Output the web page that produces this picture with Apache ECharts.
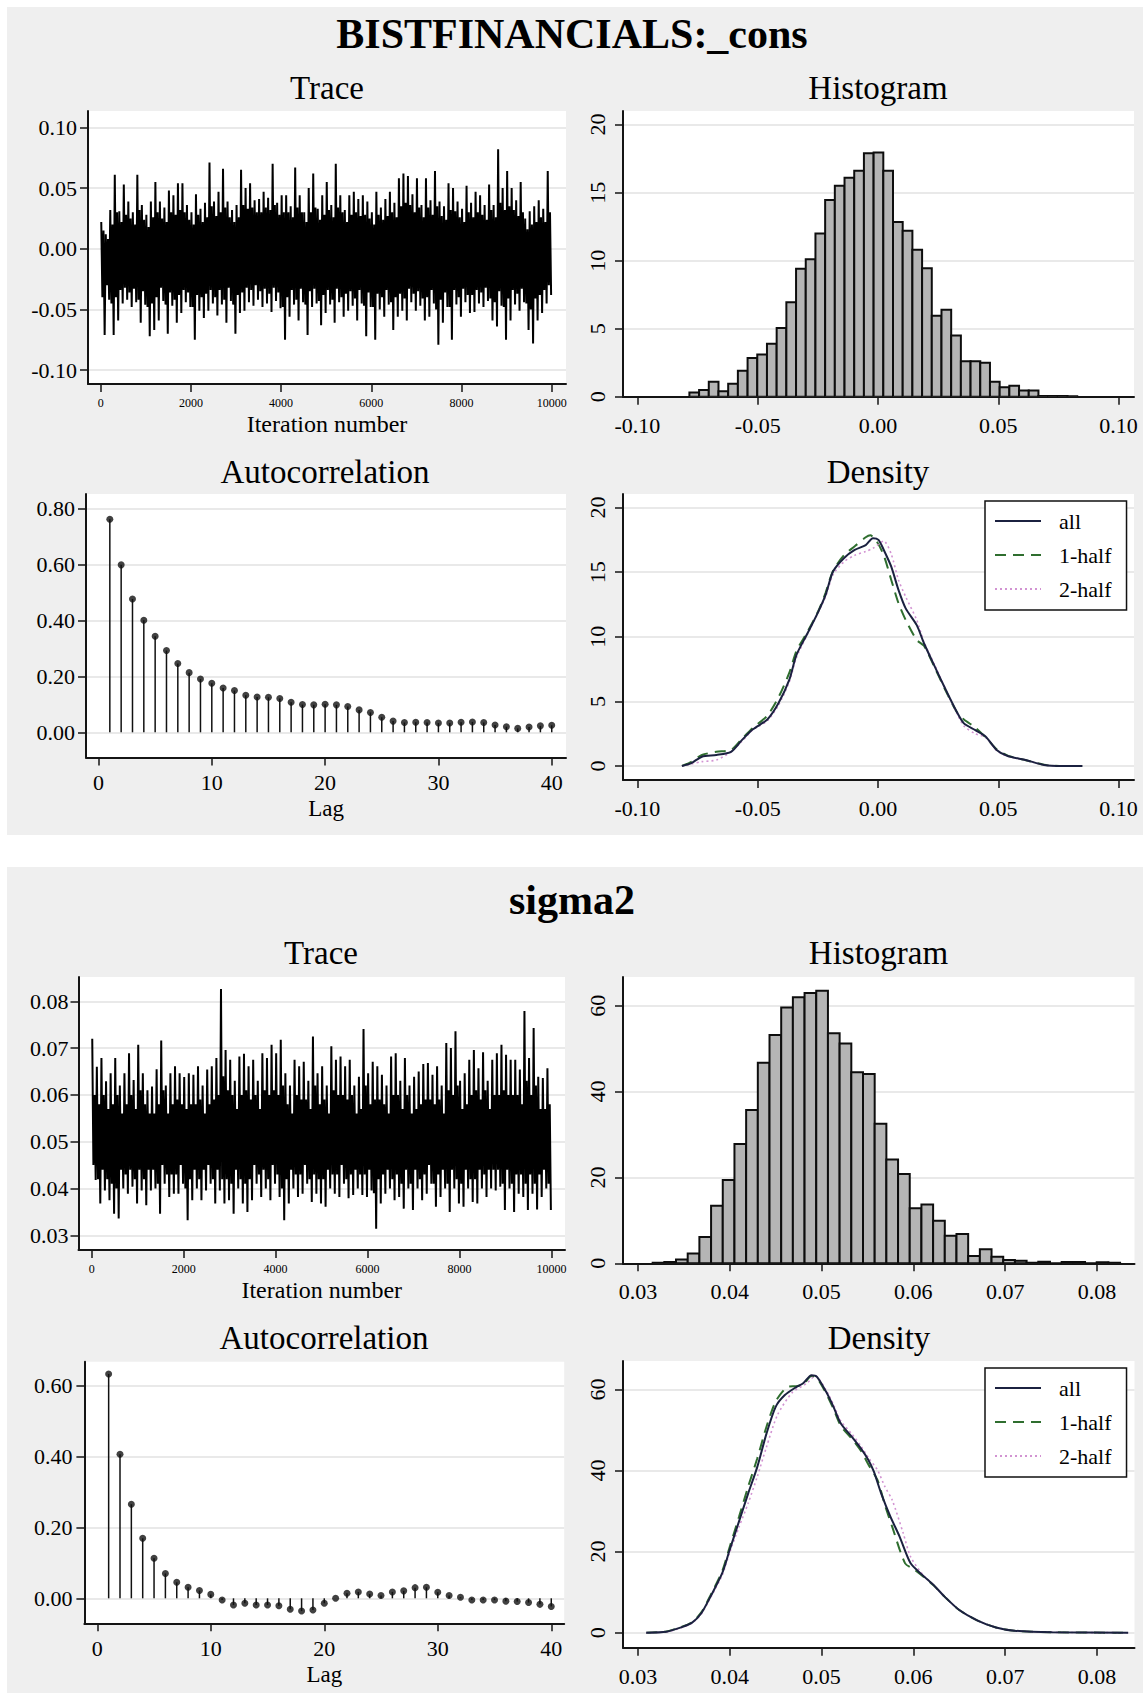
<!DOCTYPE html>
<html><head><meta charset="utf-8">
<script src="https://cdn.jsdelivr.net/npm/echarts/dist/echarts.min.js"></script>
<style>html,body{margin:0;padding:0;background:#fff}#c{width:1143px;height:1693px}</style>
</head><body><div id="c"></div>
<script>
// ---------------- DATA ----------------
// Trace of BISTFINANCIALS:_cons : per 100-iteration window, outer extremes (Hi/Lo) and edges of the dense core (InHi/InLo)
const trace1Hi = [0.022,0.012,0.032,0.061,0.031,0.053,0.039,0.030,0.061,0.036,
 0.028,0.039,0.055,0.039,0.034,0.048,0.044,0.054,0.054,0.036,
 0.030,0.045,0.033,0.038,0.071,0.039,0.047,0.066,0.039,0.032,
 0.036,0.065,0.050,0.054,0.040,0.041,0.047,0.042,0.070,0.038,
 0.044,0.044,0.035,0.067,0.044,0.030,0.050,0.062,0.033,0.044,
 0.055,0.036,0.070,0.044,0.032,0.044,0.047,0.041,0.044,0.039,
 0.030,0.047,0.034,0.041,0.047,0.038,0.058,0.062,0.060,0.045,
 0.058,0.036,0.058,0.040,0.064,0.039,0.035,0.054,0.050,0.039,
 0.033,0.052,0.038,0.047,0.044,0.036,0.053,0.036,0.082,0.050,
 0.064,0.050,0.040,0.055,0.025,0.031,0.035,0.040,0.033,0.064];
const trace1Lo = [-0.071,-0.042,-0.071,-0.059,-0.045,-0.042,-0.048,-0.044,-0.061,-0.046,
 -0.072,-0.067,-0.059,-0.043,-0.070,-0.047,-0.061,-0.053,-0.044,-0.048,
 -0.075,-0.051,-0.057,-0.051,-0.045,-0.055,-0.046,-0.061,-0.043,-0.070,
 -0.053,-0.051,-0.044,-0.047,-0.042,-0.048,-0.045,-0.052,-0.043,-0.049,
 -0.075,-0.056,-0.046,-0.059,-0.044,-0.071,-0.048,-0.045,-0.063,-0.053,
 -0.046,-0.061,-0.044,-0.056,-0.051,-0.047,-0.059,-0.045,-0.072,-0.048,
 -0.075,-0.050,-0.056,-0.046,-0.067,-0.056,-0.051,-0.059,-0.044,-0.051,
 -0.047,-0.059,-0.056,-0.045,-0.079,-0.061,-0.048,-0.075,-0.046,-0.056,
 -0.044,-0.053,-0.052,-0.045,-0.048,-0.043,-0.059,-0.064,-0.047,-0.075,
 -0.059,-0.046,-0.051,-0.044,-0.067,-0.078,-0.059,-0.053,-0.045,-0.038];
const trace1InHi = [0.015,0.008,0.020,0.030,0.022,0.028,0.025,0.020,0.032,0.024,
 0.018,0.026,0.030,0.025,0.022,0.030,0.028,0.032,0.030,0.024,
 0.020,0.028,0.022,0.026,0.035,0.027,0.030,0.034,0.026,0.022,
 0.026,0.036,0.033,0.034,0.030,0.030,0.034,0.032,0.036,0.028,
 0.030,0.030,0.026,0.034,0.030,0.022,0.030,0.034,0.024,0.028,
 0.032,0.026,0.034,0.030,0.022,0.028,0.030,0.027,0.028,0.025,
 0.020,0.028,0.024,0.027,0.030,0.026,0.035,0.038,0.036,0.030,
 0.034,0.026,0.034,0.028,0.035,0.027,0.024,0.032,0.031,0.026,
 0.022,0.030,0.026,0.030,0.028,0.024,0.032,0.026,0.038,0.032,
 0.035,0.032,0.027,0.030,0.016,0.020,0.022,0.026,0.022,0.030];
const trace1InLo = [-0.040,-0.030,-0.045,-0.040,-0.034,-0.032,-0.036,-0.033,-0.042,-0.035,
 -0.048,-0.045,-0.040,-0.032,-0.046,-0.036,-0.042,-0.038,-0.034,-0.036,
 -0.048,-0.038,-0.040,-0.037,-0.034,-0.040,-0.034,-0.042,-0.032,-0.046,
 -0.038,-0.036,-0.032,-0.034,-0.030,-0.035,-0.033,-0.037,-0.032,-0.036,
 -0.048,-0.040,-0.034,-0.042,-0.033,-0.046,-0.035,-0.033,-0.043,-0.038,
 -0.034,-0.042,-0.033,-0.040,-0.037,-0.035,-0.041,-0.034,-0.047,-0.036,
 -0.048,-0.037,-0.040,-0.034,-0.044,-0.040,-0.037,-0.041,-0.033,-0.037,
 -0.035,-0.041,-0.040,-0.034,-0.050,-0.042,-0.036,-0.048,-0.034,-0.040,
 -0.033,-0.038,-0.038,-0.034,-0.036,-0.032,-0.041,-0.044,-0.035,-0.048,
 -0.041,-0.034,-0.037,-0.033,-0.045,-0.050,-0.041,-0.038,-0.034,-0.030];
// Trace of sigma2
const trace2Hi = [0.0720,0.0660,0.0679,0.0629,0.0646,0.0679,0.0620,0.0646,0.0689,0.0632,
 0.0707,0.0646,0.0610,0.0618,0.0655,0.0716,0.0620,0.0646,0.0661,0.0646,
 0.0638,0.0646,0.0643,0.0661,0.0620,0.0654,0.0661,0.0679,0.0826,0.0696,
 0.0675,0.0630,0.0682,0.0688,0.0661,0.0675,0.0630,0.0689,0.0679,0.0707,
 0.0689,0.0718,0.0646,0.0620,0.0675,0.0661,0.0671,0.0630,0.0725,0.0646,
 0.0661,0.0620,0.0704,0.0675,0.0682,0.0661,0.0675,0.0620,0.0639,0.0741,
 0.0646,0.0671,0.0661,0.0643,0.0620,0.0682,0.0689,0.0630,0.0679,0.0620,
 0.0639,0.0650,0.0666,0.0668,0.0643,0.0661,0.0620,0.0711,0.0700,0.0736,
 0.0630,0.0646,0.0675,0.0696,0.0657,0.0691,0.0630,0.0675,0.0689,0.0707,
 0.0686,0.0675,0.0675,0.0654,0.0779,0.0679,0.0743,0.0639,0.0636,0.0657];
const trace2Lo = [0.0418,0.0368,0.0396,0.0375,0.0346,0.0336,0.0400,0.0389,0.0404,0.0368,
 0.0396,0.0364,0.0396,0.0400,0.0346,0.0410,0.0382,0.0389,0.0389,0.0410,
 0.0332,0.0375,0.0400,0.0375,0.0396,0.0410,0.0368,0.0396,0.0368,0.0375,
 0.0346,0.0400,0.0368,0.0350,0.0375,0.0410,0.0382,0.0400,0.0375,0.0410,
 0.0382,0.0332,0.0368,0.0400,0.0382,0.0389,0.0410,0.0371,0.0389,0.0368,
 0.0361,0.0400,0.0389,0.0382,0.0410,0.0379,0.0386,0.0400,0.0386,0.0382,
 0.0396,0.0314,0.0368,0.0389,0.0400,0.0375,0.0382,0.0357,0.0400,0.0354,
 0.0400,0.0375,0.0389,0.0410,0.0361,0.0382,0.0400,0.0350,0.0400,0.0368,
 0.0361,0.0400,0.0371,0.0368,0.0400,0.0382,0.0400,0.0396,0.0404,0.0354,
 0.0400,0.0350,0.0389,0.0382,0.0354,0.0389,0.0355,0.0382,0.0400,0.0354];
const trace2InHi = [0.060,0.058,0.060,0.057,0.058,0.060,0.056,0.058,0.060,0.057,
 0.061,0.058,0.056,0.056,0.058,0.061,0.056,0.058,0.059,0.058,
 0.057,0.058,0.058,0.059,0.056,0.058,0.059,0.060,0.064,0.061,
 0.060,0.057,0.060,0.061,0.059,0.060,0.057,0.061,0.060,0.061,
 0.060,0.062,0.058,0.056,0.060,0.059,0.059,0.057,0.062,0.058,
 0.059,0.056,0.061,0.060,0.060,0.059,0.060,0.056,0.057,0.062,
 0.058,0.059,0.059,0.058,0.056,0.060,0.060,0.057,0.060,0.056,
 0.057,0.058,0.059,0.059,0.058,0.059,0.056,0.061,0.060,0.062,
 0.057,0.058,0.060,0.061,0.059,0.061,0.057,0.060,0.060,0.061,
 0.060,0.060,0.060,0.058,0.063,0.060,0.062,0.057,0.057,0.058];
const trace2InLo = [0.045,0.042,0.044,0.042,0.041,0.040,0.044,0.043,0.044,0.042,
 0.044,0.042,0.044,0.044,0.041,0.045,0.043,0.043,0.043,0.045,
 0.040,0.042,0.044,0.042,0.044,0.045,0.042,0.044,0.042,0.042,
 0.041,0.044,0.042,0.041,0.042,0.045,0.043,0.044,0.042,0.045,
 0.043,0.040,0.042,0.044,0.043,0.043,0.045,0.042,0.043,0.042,
 0.042,0.044,0.043,0.043,0.045,0.042,0.043,0.044,0.043,0.043,
 0.044,0.039,0.042,0.043,0.044,0.042,0.043,0.041,0.044,0.041,
 0.044,0.042,0.043,0.045,0.041,0.043,0.044,0.041,0.044,0.042,
 0.041,0.044,0.042,0.042,0.044,0.043,0.044,0.044,0.044,0.041,
 0.044,0.041,0.043,0.043,0.041,0.043,0.041,0.043,0.044,0.041];
const traceStep = 100; // iterations per window

// Histograms (density scale), 40 bins
const hist1Start = -0.0784, hist1Width = 0.00403;
const hist1Vals = [0.3,0.5,1.1,0.4,0.95,1.9,2.85,3.1,3.9,5.05,6.95,9.4,10.1,12.0,14.45,15.5,16.1,16.6,17.9,17.95,
 16.6,12.85,12.2,10.8,9.45,5.95,6.4,4.5,2.6,2.6,2.5,1.1,0.7,0.8,0.45,0.45,0.06,0.05,0.05,0.03];
const hist2Start = 0.0316, hist2Width = 0.001273;
const hist2Vals = [0.15,0.3,0.9,2.3,6.1,13.4,19.4,27.8,35.7,46.7,53.2,59.6,62.0,63.0,63.5,53.6,51.2,44.5,44.1,32.5,
 24.2,20.8,12.8,13.7,9.9,6.4,6.8,1.7,3.3,1.55,0.78,0.6,0.1,0.35,0.0,0.3,0.3,0.0,0.25,0.1];

// Autocorrelations, lags 1..40
const lags = [1,2,3,4,5,6,7,8,9,10,11,12,13,14,15,16,17,18,19,20,21,22,23,24,25,26,27,28,29,30,31,32,33,34,35,36,37,38,39,40];
const acf1 = [0.761,0.598,0.476,0.400,0.343,0.292,0.246,0.213,0.190,0.175,0.158,0.149,0.132,0.126,0.125,0.121,0.107,0.099,0.098,0.100,
 0.098,0.092,0.080,0.071,0.054,0.040,0.035,0.036,0.035,0.033,0.033,0.036,0.037,0.035,0.026,0.020,0.014,0.019,0.023,0.025];
const acf2 = [0.632,0.406,0.265,0.169,0.113,0.070,0.045,0.031,0.022,0.011,-0.005,-0.019,-0.014,-0.019,-0.019,-0.021,-0.031,-0.036,-0.033,-0.014,
 0.000,0.014,0.018,0.012,0.008,0.018,0.021,0.030,0.031,0.017,0.008,0.003,-0.005,-0.005,-0.005,-0.008,-0.009,-0.012,-0.017,-0.023];

// Kernel densities [x, density]
const dens1All = [[-0.0815,0],[-0.0778,0.2],[-0.0732,0.72],[-0.0672,0.85],[-0.0611,1.1],[-0.0566,2.0],[-0.052,2.84],[-0.046,3.6],[-0.0414,4.85],[-0.0369,6.66],[-0.0339,8.6],[-0.0293,10.27],[-0.0248,11.95],[-0.0218,13.24],[-0.0187,15.05],[-0.0142,16.08],[-0.0097,16.72],[-0.0051,17.1],[-0.0021,17.63],[0.0002,17.5],[0.0024,16.72],[0.0055,15.43],[0.0085,13.63],[0.0115,12.2],[0.0161,10.9],[0.0191,9.5],[0.0236,7.69],[0.0282,5.88],[0.0327,4.2],[0.0357,3.3],[0.0403,2.79],[0.0448,2.27],[0.0493,1.24],[0.0539,0.77],[0.0614,0.46],[0.069,0.08],[0.0766,0.0],[0.0849,0.0]];
const dens1Half1 = [[-0.0815,0],[-0.0778,0.3],[-0.0732,0.85],[-0.0672,1.1],[-0.0611,1.24],[-0.0566,2.1],[-0.052,2.95],[-0.046,3.9],[-0.0414,5.3],[-0.0369,7.2],[-0.0339,8.9],[-0.0293,10.4],[-0.0248,12.0],[-0.0218,13.4],[-0.0187,15.1],[-0.0142,16.3],[-0.0097,17.0],[-0.0051,17.7],[-0.0032,17.85],[-0.0006,17.4],[0.0024,16.3],[0.0055,14.4],[0.0085,12.6],[0.0115,11.3],[0.0161,9.75],[0.0191,9.3],[0.0236,7.6],[0.0282,5.8],[0.0327,4.2],[0.0357,3.6],[0.0403,3.0],[0.0448,2.2],[0.0493,1.3],[0.0539,0.8],[0.0614,0.45],[0.069,0.1],[0.0766,0.0],[0.0849,0.0]];
const dens1Half2 = [[-0.0815,0],[-0.0778,0.15],[-0.0732,0.34],[-0.0672,0.46],[-0.0611,1.1],[-0.0566,1.9],[-0.052,2.8],[-0.046,3.5],[-0.0414,4.7],[-0.0369,6.5],[-0.0339,8.4],[-0.0293,10.2],[-0.0248,11.9],[-0.0218,13.1],[-0.0187,14.8],[-0.0142,15.8],[-0.0097,16.3],[-0.0051,16.6],[-0.0021,16.85],[0.0024,17.4],[0.0055,16.4],[0.0085,14.4],[0.0115,13.1],[0.0161,11.3],[0.0191,9.6],[0.0236,7.8],[0.0282,5.9],[0.0327,4.1],[0.0357,3.1],[0.0403,2.5],[0.0448,2.2],[0.0493,1.2],[0.0539,0.75],[0.0614,0.46],[0.069,0.08],[0.0766,0.0],[0.0849,0.0]];
const dens2All = [[0.0309,0],[0.0331,0.25],[0.0347,1.3],[0.0359,2.5],[0.0369,4.8],[0.0379,8.9],[0.0392,14.8],[0.040,20.5],[0.041,27.4],[0.042,34.3],[0.043,40.9],[0.044,49.1],[0.045,55.7],[0.046,58.6],[0.0472,60.5],[0.048,61.5],[0.0489,63.5],[0.0495,63.1],[0.0505,59.4],[0.0513,55.7],[0.0521,51.6],[0.0533,48.3],[0.0543,45.4],[0.0551,42.6],[0.0557,39.7],[0.0565,34.3],[0.0575,28.6],[0.0585,23.7],[0.0597,17.1],[0.061,14.2],[0.0622,11.75],[0.0634,8.9],[0.065,5.6],[0.067,3.0],[0.069,1.3],[0.071,0.5],[0.0751,0.1],[0.0834,0]];
const dens2Half1 = [[0.0309,0],[0.0331,0.3],[0.0347,1.4],[0.0359,2.6],[0.0369,5.0],[0.0379,9.2],[0.0392,15.3],[0.040,21.2],[0.041,28.5],[0.042,36.0],[0.043,43.0],[0.044,50.8],[0.045,57.0],[0.0462,60.5],[0.0472,60.8],[0.048,61.2],[0.0489,63.3],[0.0495,62.8],[0.0505,59.0],[0.0513,55.2],[0.0521,51.0],[0.0533,47.8],[0.0543,44.8],[0.0551,41.5],[0.0561,37.6],[0.0569,31.5],[0.0577,26.1],[0.0591,17.1],[0.0601,15.6],[0.061,14.0],[0.0622,11.7],[0.0634,8.9],[0.065,5.6],[0.067,3.0],[0.069,1.3],[0.071,0.5],[0.0751,0.1],[0.0834,0]];
const dens2Half2 = [[0.0309,0],[0.0331,0.2],[0.0347,1.2],[0.0359,2.4],[0.0369,4.6],[0.0379,8.6],[0.0392,14.3],[0.040,19.8],[0.041,26.0],[0.042,31.9],[0.043,38.5],[0.044,45.8],[0.0452,53.7],[0.0468,59.2],[0.0484,61.5],[0.0493,63.3],[0.0505,59.8],[0.0513,56.2],[0.0521,52.2],[0.0533,49.0],[0.0543,46.0],[0.0551,43.2],[0.0561,40.1],[0.0569,36.0],[0.0577,32.7],[0.0589,24.5],[0.0597,18.7],[0.061,14.4],[0.0622,11.8],[0.0634,8.9],[0.065,5.6],[0.067,3.0],[0.069,1.3],[0.071,0.5],[0.0751,0.1],[0.0834,0]];

// Tick values
const traceXTicks = [0,2000,4000,6000,8000,10000];
const trace1YTicks = [-0.10,-0.05,0,0.05,0.10];
const hist1XTicks = [-0.10,-0.05,0,0.05,0.10];
const hist1YTicks = [0,5,10,15,20];
const acfXTicks = [0,10,20,30,40];
const acf1YTicks = [0,0.2,0.4,0.6,0.8];
const trace2YTicks = [0.03,0.04,0.05,0.06,0.07,0.08];
const hist2XTicks = [0.03,0.04,0.05,0.06,0.07,0.08];
const hist2YTicks = [0,20,40,60];
const acf2YTicks = [0,0.2,0.4,0.6];
const legendNames = ['all','1-half','2-half'];

// ---------------- CHART ----------------
const FONT = 'Liberation Serif';
const AX = '#141414';
const GRIDC = '#e2e2e2';

function traceData(hi, inLo, inHi, lo){
  const out = [];
  for (let k = 0; k < hi.length; k++){
    const b = k*traceStep;
    out.push([b + 12, hi[k]]);
    out.push([b + 37, inLo[k]]);
    out.push([b + 62, inHi[k]]);
    out.push([b + 87, lo[k]]);
  }
  return out;
}
function histData(start, w, vals){ return vals.map((h,i)=>[start+i*w, start+(i+1)*w, h]); }
function acfData(v){ return lags.map((l,i)=>[l, v[i]]); }

function axis(o){
  return {
    type:'value', gridIndex:o.g, min:o.min, max:o.max,
    nameMoveOverlap:false,
    name:o.name||'', nameLocation:'middle', nameGap:o.nameGap||0,
    nameTextStyle:{fontFamily:FONT, fontSize:o.nameSize||24, color:'#000'},
    axisLine:{show:true, onZero:false, lineStyle:{color:AX, width:2}},
    axisTick:{show:true, inside:false, length:8, lineStyle:{color:AX, width:1.5}, customValues:o.ticks},
    axisLabel:{show:true, customValues:o.ticks, formatter:o.fmt, fontFamily:FONT, fontSize:o.fs||22,
      color:'#000', margin:o.margin, rotate:o.rotate||0, hideOverlap:false},
    splitLine:{show:!!o.split, lineStyle:{color:GRIDC, width:1.5}},
    minorTick:{show:false}, minorSplitLine:{show:false}
  };
}
const f2 = v => v.toFixed(2);
const f0 = v => String(Math.round(v));

const grids = [
  {left:88, top:111, width:478, height:273},      // trace 1
  {left:623, top:111, width:511, height:285.7},   // hist 1
  {left:86, top:494, width:480, height:263.5},    // acf 1
  {left:623, top:494, width:511, height:286},     // density 1
  {left:78.5, top:977, width:486.5, height:273},  // trace 2
  {left:623, top:977, width:511.5, height:286.3}, // hist 2
  {left:84.4, top:1361.7, width:479.8, height:261.6}, // acf 2
  {left:623, top:1361, width:511.5, height:286.7} // density 2
].map(g => Object.assign(g, {show:true, backgroundColor:'#ffffff', borderWidth:0, containLabel:false, outerBoundsMode:'none'}));

const xAxes = [
  axis({g:0, min:-282, max:10317, ticks:traceXTicks, fmt:f0, fs:12, margin:13, name:'Iteration number', nameGap:27.5}),
  axis({g:1, min:-0.106, max:0.1064, ticks:hist1XTicks, fmt:f2, margin:18}),
  axis({g:2, min:-1.103, max:41.26, ticks:acfXTicks, fmt:f0, margin:14, name:'Lag', nameGap:39.5, nameSize:23}),
  axis({g:3, min:-0.106, max:0.1064, ticks:hist1XTicks, fmt:f2, margin:17}),
  axis({g:4, min:-287, max:10294, ticks:traceXTicks, fmt:f0, fs:12, margin:13, name:'Iteration number', nameGap:27.5}),
  axis({g:5, min:0.02837, max:0.08409, ticks:hist2XTicks, fmt:f2, margin:17.4}),
  axis({g:6, min:-1.137, max:41.14, ticks:acfXTicks, fmt:f0, margin:14, name:'Lag', nameGap:39.5, nameSize:23}),
  axis({g:7, min:0.02837, max:0.08409, ticks:hist2XTicks, fmt:f2, margin:18})
];
const yAxes = [
  axis({g:0, min:-0.1114, max:0.1135, ticks:trace1YTicks, fmt:f2, margin:11, split:true}),
  axis({g:1, min:0, max:21.0, ticks:hist1YTicks, fmt:f0, margin:15, rotate:90, split:true}),
  axis({g:2, min:-0.090, max:0.851, ticks:acf1YTicks, fmt:f2, margin:11, split:true}),
  axis({g:3, min:-1.084, max:21.05, ticks:hist1YTicks, fmt:f0, margin:15, rotate:90, split:true}),
  axis({g:4, min:0.02686, max:0.08519, ticks:trace2YTicks, fmt:f2, margin:10, split:true}),
  axis({g:5, min:0, max:66.7, ticks:hist2YTicks, fmt:f0, margin:15, rotate:90, split:true}),
  axis({g:6, min:-0.0704, max:0.6665, ticks:acf2YTicks, fmt:f2, margin:12, split:true}),
  axis({g:7, min:-3.70, max:67.0, ticks:hist2YTicks, fmt:f0, margin:15, rotate:90, split:true})
];

function histSeries(idx, data){
  return {type:'custom', xAxisIndex:idx, yAxisIndex:idx, data, encode:{x:[0,1], y:2}, clip:true, silent:true, z:3,
    renderItem:(params, api)=>{
      const p0 = api.coord([api.value(0), 0]);
      const p1 = api.coord([api.value(1), api.value(2)]);
      return {type:'rect', shape:{x:p0[0], y:p1[1], width:p1[0]-p0[0], height:p0[1]-p1[1]},
        style:{fill:'#b5b5b5', stroke:'#0d0d0d', lineWidth:2}};
    }};
}
function stemSeries(idx, data){
  return {type:'custom', xAxisIndex:idx, yAxisIndex:idx, data, encode:{x:0, y:1}, silent:true, z:3,
    renderItem:(params, api)=>{
      const p0 = api.coord([api.value(0), 0]);
      const p1 = api.coord([api.value(0), api.value(1)]);
      return {type:'line', shape:{x1:p0[0], y1:p0[1], x2:p1[0], y2:p1[1]}, style:{stroke:'#111', lineWidth:1.5}};
    }};
}
function dotSeries(idx, data){
  return {type:'scatter', xAxisIndex:idx, yAxisIndex:idx, data, symbol:'circle', symbolSize:7,
    itemStyle:{color:'#111'}, silent:true, z:4};
}
function densSeries(idx, all, h1, h2){
  const base = {type:'line', xAxisIndex:idx, yAxisIndex:idx, symbol:'none', showSymbol:false, smooth:0.25, silent:true};
  return [
    Object.assign({}, base, {name:'1-half', data:h1, z:3, lineStyle:{color:'#2f6e2f', width:2, type:[11,7]}, itemStyle:{color:'#2f6e2f'}}),
    Object.assign({}, base, {name:'2-half', data:h2, z:3, lineStyle:{color:'#d293d2', width:1.6, type:[2,3]}, itemStyle:{color:'#d293d2'}}),
    Object.assign({}, base, {name:'all', data:all, z:4, lineStyle:{color:'#1b2140', width:2}, itemStyle:{color:'#1b2140'}})
  ];
}
function traceSeries(idx, data){
  return {type:'line', xAxisIndex:idx, yAxisIndex:idx, data, symbol:'none', showSymbol:false, silent:true,
    lineStyle:{color:'#000', width:2}, z:3, sampling:null};
}

function legend(top){
  return {show:true, orient:'vertical', left:985, top, data:legendNames, selectedMode:false,
    backgroundColor:'#fff', borderColor:'#111', borderWidth:1.5, borderRadius:0, padding:[9,15,10,9],
    itemWidth:46, itemHeight:14, itemGap:12, itemStyle:{opacity:0},
    textStyle:{fontFamily:FONT, fontSize:22, color:'#000', lineHeight:22, padding:[0,0,0,13]}};
}

function txt(x, y, text, size, bold){
  return {type:'text', x, y, z:100, silent:true,
    style:{text, font:(bold?'bold ':'')+size+'px "'+FONT+'"', fill:'#000',
      align:'center', verticalAlign:'middle', textAlign:'center', textVerticalAlign:'middle'}};
}

const option = {
  animation:false,
  backgroundColor:'#ffffff',
  textStyle:{fontFamily:FONT},
  graphic:{elements:[
    {type:'rect', z:-100, silent:true, shape:{x:7, y:7, width:1136, height:828}, style:{fill:'#efefef'}},
    {type:'rect', z:-100, silent:true, shape:{x:7, y:867, width:1136, height:826}, style:{fill:'#efefef'}},
    txt(572, 33.5, 'BISTFINANCIALS:_cons', 42, true),
    txt(327, 88, 'Trace', 33),
    txt(878, 88, 'Histogram', 33),
    txt(325, 471.7, 'Autocorrelation', 33),
    txt(878, 471.7, 'Density', 33),
    txt(572, 900, 'sigma2', 42, true),
    txt(321, 953.3, 'Trace', 33),
    txt(878.5, 953.3, 'Histogram', 33),
    txt(324, 1338.3, 'Autocorrelation', 33),
    txt(879, 1338.3, 'Density', 33)
  ]},
  grid:grids,
  xAxis:xAxes,
  yAxis:yAxes,
  legend:[legend(501), legend(1368)],
  series:[
    traceSeries(0, traceData(trace1Hi, trace1InLo, trace1InHi, trace1Lo)),
    histSeries(1, histData(hist1Start, hist1Width, hist1Vals)),
    stemSeries(2, acfData(acf1)),
    dotSeries(2, acfData(acf1)),
    ...densSeries(3, dens1All, dens1Half1, dens1Half2),
    traceSeries(4, traceData(trace2Hi, trace2InLo, trace2InHi, trace2Lo)),
    histSeries(5, histData(hist2Start, hist2Width, hist2Vals)),
    stemSeries(6, acfData(acf2)),
    dotSeries(6, acfData(acf2)),
    ...densSeries(7, dens2All, dens2Half1, dens2Half2)
  ]
};
const chart = echarts.init(document.getElementById('c'), null, {renderer:'svg', width:1143, height:1693});
chart.setOption(option);
</script></body></html>
